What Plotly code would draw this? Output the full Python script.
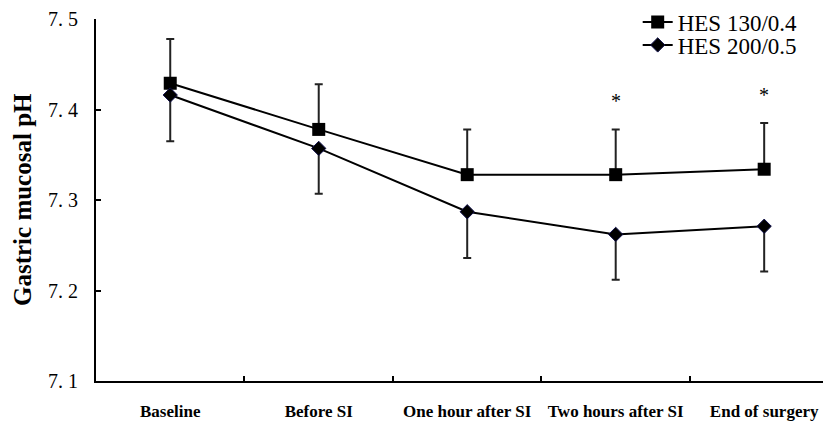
import plotly.graph_objects as go

categories = ["Baseline", "Before SI", "One hour after SI", "Two hours after SI", "End of surgery"]
hes130 = [7.429, 7.378, 7.328, 7.328, 7.334]
hes130_err = [0.049, 0.050, 0.050, 0.050, 0.051]
hes200 = [7.416, 7.357, 7.287, 7.262, 7.271]
hes200_err = [0.051, 0.050, 0.051, 0.050, 0.050]
yticks = [7.1, 7.2, 7.3, 7.4, 7.5]
ytick_labels = ["7.\u00a01", "7.\u00a02", "7.\u00a03", "7.\u00a04", "7.\u00a05"]
sig_points = ["Two hours after SI", "End of surgery"]

serif = "Liberation Serif, Times New Roman, serif"

# page body adds an 8px offset; figure geometry compensates for it
W, H = 823, 413
L, B = 88, 40
plot_h = 362
paper_h = H - B

fig = go.Figure()
fig.add_trace(go.Scatter(
    x=categories, y=hes130, name="HES 130/0.4", mode="lines+markers",
    line=dict(color="black", width=2),
    marker=dict(symbol="square", size=13, color="black"),
    error_y=dict(type="data", array=hes130_err, arrayminus=[0]*5, symmetric=False,
                 color="#222222", thickness=2, width=4),
    legend="legend",
))
fig.add_trace(go.Scatter(
    x=categories, y=hes200, name="HES 200/0.5", mode="lines+markers",
    line=dict(color="black", width=2),
    marker=dict(symbol="diamond", size=11, color="black", line=dict(color="#10104a", width=1)),
    error_y=dict(type="data", array=[0]*5, arrayminus=hes200_err, symmetric=False,
                 color="#222222", thickness=2, width=4),
    legend="legend2",
))

for c in sig_points:
    i = categories.index(c)
    fig.add_annotation(x=c, y=hes130[i] + hes130_err[i], text="*", showarrow=False,
                       yshift=28, font=dict(family=serif, size=20, color="black"))

fig.add_annotation(
    text="<b>Gastric mucosal pH</b>", xref="paper", yref="paper",
    x=-(L - 14) / (W - L), y=(plot_h / paper_h) / 2 + 0.0,
    xanchor="center", yanchor="middle", textangle=-90, showarrow=False,
    font=dict(family=serif, size=25, color="black"),
)

legend_common = dict(font=dict(family=serif, size=23, color="black"),
                     bgcolor="rgba(0,0,0,0)", itemwidth=30, xanchor="left",
                     yanchor="middle", x=0.737)

fig.update_layout(
    width=W, height=H,
    margin=dict(l=L, r=0, t=0, b=B, autoexpand=False),
    paper_bgcolor="white", plot_bgcolor="white",
    showlegend=True,
    legend=dict(**legend_common, y=1 - 14 / paper_h),
    legend2=dict(**legend_common, y=1 - 37 / paper_h),
    font=dict(family=serif, color="black"),
)
fig.update_xaxes(
    type="category", range=[-0.5, 4.45],
    showline=True, linecolor="black", linewidth=2,
    ticks="inside", tickson="boundaries", ticklen=5, tickcolor="black", tickwidth=1.5,
    showgrid=False, zeroline=False,
    tickfont=dict(family=serif, size=17, color="black", weight="bold"),
    ticklabelstandoff=14,
)
fig.update_yaxes(
    domain=[0, plot_h / paper_h],
    range=[7.1, 7.5], tickvals=yticks, ticktext=ytick_labels,
    showline=True, linecolor="black", linewidth=2,
    ticks="inside", ticklen=5, tickcolor="black", tickwidth=1.5,
    showgrid=False, zeroline=False,
    tickfont=dict(family=serif, size=20, color="black"),
    ticklabelstandoff=12,
)

fig.write_html("out.html")
